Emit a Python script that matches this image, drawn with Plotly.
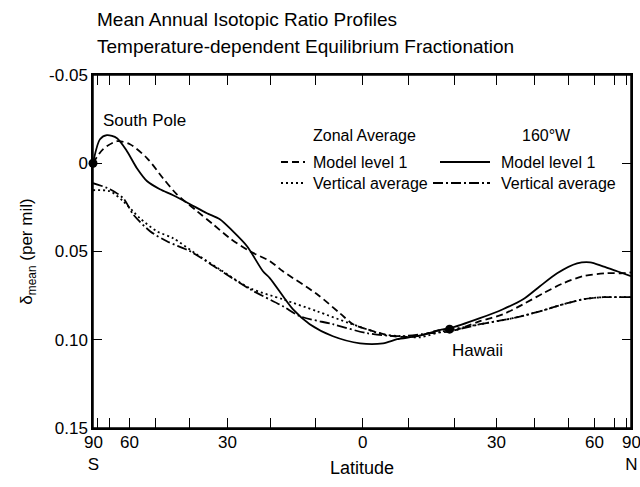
import numpy as np
import plotly.graph_objects as go

# ---- data (latitude in degrees, delta_mean in per mil) ----
lat_160w_lvl1 = [-90, -76.9, -71.5, -65.6, -60.9, -56.8, -53.0, -48.7, -44.6, -39.7, -35.2, -31.9,
                 -28.7, -25.3, -21.6, -20.0, -14.9, -11.2, -6.2, -0.4, 4.5, 7.5, 11.8, 17.5, 19.1,
                 26.0, 31.6, 36.8, 41.4, 46.5, 53.1, 58.0, 63.6, 71.5, 90]
val_160w_lvl1 = [0.0, -0.0136, -0.0159, -0.0142, -0.0068, 0.0028, 0.0102, 0.0147, 0.0181, 0.0232,
                 0.0283, 0.0317, 0.0385, 0.0470, 0.0612, 0.0652, 0.0827, 0.0912, 0.0980, 0.1020,
                 0.1020, 0.0997, 0.0980, 0.0941, 0.0935, 0.0878, 0.0827, 0.0771, 0.0697, 0.0623,
                 0.0567, 0.0561, 0.0584, 0.0612, 0.0640]

lat_zonal_lvl1 = [-90, -74.4, -65.6, -59.6, -53.0, -47.7, -43.5, -37.8, -33.6, -29.4, -24.6, -20.0,
                  -17.1, -9.6, -4.7, -1.9, 1.1, 6.6, 11.8, 17.5, 19.1, 26.0, 31.6, 36.8, 42.3, 48.4,
                  55.3, 65.6, 76.1, 90]
val_zonal_lvl1 = [0.0, -0.0079, -0.0125, -0.0108, -0.0028, 0.0085, 0.0176, 0.0272, 0.0346, 0.0425,
                  0.0499, 0.0555, 0.0612, 0.0742, 0.0850, 0.0912, 0.0941, 0.0980, 0.0980, 0.0941,
                  0.0952, 0.0895, 0.0856, 0.0799, 0.0737, 0.0680, 0.0640, 0.0623, 0.0623, 0.0618]

lat_zonal_vavg = [-90, -69.5, -62.6, -55.6, -49.7, -44.6, -38.0, -32.0, -24.6, -17.1, -9.6, -2.6,
                  4.5, 8.1, 12.5, 17.5, 26.0, 34.1, 41.4, 48.4, 55.3, 63.6, 73.5, 90]
val_zonal_vavg = [0.0153, 0.0159, 0.0215, 0.0312, 0.0385, 0.0425, 0.0515, 0.0600, 0.0708, 0.0771,
                  0.0839, 0.0907, 0.0969, 0.0980, 0.0986, 0.0952, 0.0912, 0.0878, 0.0839, 0.0799,
                  0.0771, 0.0759, 0.0759, 0.0759]

lat_160w_vavg = [-90, -69.5, -62.6, -58.3, -52.0, -46.5, -39.7, -32.6, -24.6, -17.1, -13.3, -6.2,
                 1.1, 8.1, 14.6, 19.1, 26.0, 34.1, 41.4, 48.4, 55.3, 63.6, 73.5, 90]
val_160w_vavg = [0.0113, 0.0147, 0.0198, 0.0289, 0.0385, 0.0442, 0.0499, 0.0595, 0.0714, 0.0810,
                 0.0867, 0.0912, 0.0963, 0.0980, 0.0963, 0.0952, 0.0912, 0.0878, 0.0839, 0.0799,
                 0.0771, 0.0759, 0.0759, 0.0759]

site_lat = [-90, 19]
site_val = [0.0, 0.094]
site_names = ["South Pole", "Hawaii"]

x_tick_lats = list(range(-90, 91, 10))
x_label_lats = [-90, -60, -30, 0, 30, 60, 90]
x_label_text = ["90<br>S", "60", "30", "0", "30", "60", "90<br>N"]
y_tick_vals = [-0.05, 0.0, 0.05, 0.10, 0.15]
y_tick_text = ["-0.05", "0", "0.05", "0.10", "0.15"]


def sx(lats):
    return np.sin(np.radians(np.asarray(lats, dtype=float)))


FONT = "Liberation Sans, Arial, Helvetica, sans-serif"

fig = go.Figure()
series = [
    (lat_zonal_lvl1, val_zonal_lvl1, "7px,4px"),
    (lat_zonal_vavg, val_zonal_vavg, "2px,3px"),
    (lat_160w_lvl1, val_160w_lvl1, "solid"),
    (lat_160w_vavg, val_160w_vavg, "10px,3px,2px,3px"),
]
for la, va, dash in series:
    fig.add_trace(go.Scatter(x=sx(la), y=va, mode="lines",
                             line=dict(color="black", width=1.8, dash=dash, shape="spline", smoothing=0.8),
                             showlegend=False, hoverinfo="skip"))

# site markers drawn on the overlay axes (top / right), which match the main axes
fig.add_trace(go.Scatter(x=sx(site_lat), y=site_val, mode="markers", xaxis="x2", yaxis="y2",
                         marker=dict(color="black", size=9), showlegend=False, cliponaxis=False))

# plot area in pixels
L, R, T, B = 93, 631, 75, 428


def px(x):
    return (x - L) / (R - L)


def py(y):
    return (B - y) / (B - T)


common_x = dict(range=[-1, 1], tickvals=list(sx(x_tick_lats)), showticklabels=False,
                ticks="inside", ticklen=10, tickwidth=1, tickcolor="black",
                showline=True, linecolor="black", linewidth=1.5,
                showgrid=False, zeroline=False)
common_y = dict(range=[0.15, -0.05], tickvals=y_tick_vals,
                ticks="inside", ticklen=9, tickwidth=1, tickcolor="black",
                showline=True, linecolor="black", linewidth=1.5,
                showgrid=False, zeroline=False)

fig.update_layout(
    width=640, height=487,
    margin=dict(l=L, r=640 - R, t=T, b=487 - B),
    paper_bgcolor="white", plot_bgcolor="white",
    font=dict(family=FONT, color="black"),
    xaxis=dict(**common_x, side="bottom"),
    xaxis2=dict(**common_x, side="top", overlaying="x", matches="x"),
    yaxis=dict(**common_y, side="left", ticktext=y_tick_text, tickfont=dict(size=17),
               title=dict(text="δ<sub>mean</sub> (per mil)", font=dict(size=17), standoff=12)),
    yaxis2=dict(**common_y, side="right", overlaying="y", matches="y", showticklabels=False),
)

# x tick labels, placed at their latitudes on the sine-of-latitude axis
for la, txt in zip(x_label_lats, x_label_text):
    fig.add_annotation(text=txt, x=float(sx([la])[0]), xref="x", y=py(431), yref="paper",
                       xanchor="center", yanchor="top", showarrow=False,
                       font=dict(size=17, family=FONT, color="black"))

ann = [
    ("Latitude", 362, 468, "center", 18),
    ("Mean Annual Isotopic Ratio Profiles", 95, 19, "left", 19),
    ("Temperature-dependent Equilibrium Fractionation", 95, 46, "left", 19),
    ("Zonal Average", 364, 135, "center", 16),
    ("160°W", 546, 135, "center", 16),
    ("Model level 1", 311, 162, "left", 16),
    ("Vertical average", 311, 183, "left", 16),
    ("Model level 1", 499, 162, "left", 16),
    ("Vertical average", 499, 183, "left", 16),
    (site_names[0], 144, 120, "center", 17),
    (site_names[1], 477, 350, "center", 17),
]
for text, x, y, anchor, size in ann:
    fig.add_annotation(text=text, x=px(x), y=py(y), xref="paper", yref="paper",
                       xanchor=anchor, yanchor="middle", showarrow=False,
                       font=dict(size=size, family=FONT, color="black"))

# plot frame
fig.add_shape(type="rect", xref="paper", yref="paper", x0=0, x1=1, y0=0, y1=1,
              line=dict(color="black", width=1.5), layer="above")

for x0, x1, y, dash in [(281, 305, 162, "7px,4px"), (281, 305, 183, "2px,3px"),
                        (440, 490, 162, "solid"), (433, 490, 183, "10px,3px,2px,3px")]:
    fig.add_shape(type="line", xref="paper", yref="paper", x0=px(x0), x1=px(x1), y0=py(y), y1=py(y),
                  line=dict(color="black", width=1.8, dash=dash))

fig.write_html("out.html")
